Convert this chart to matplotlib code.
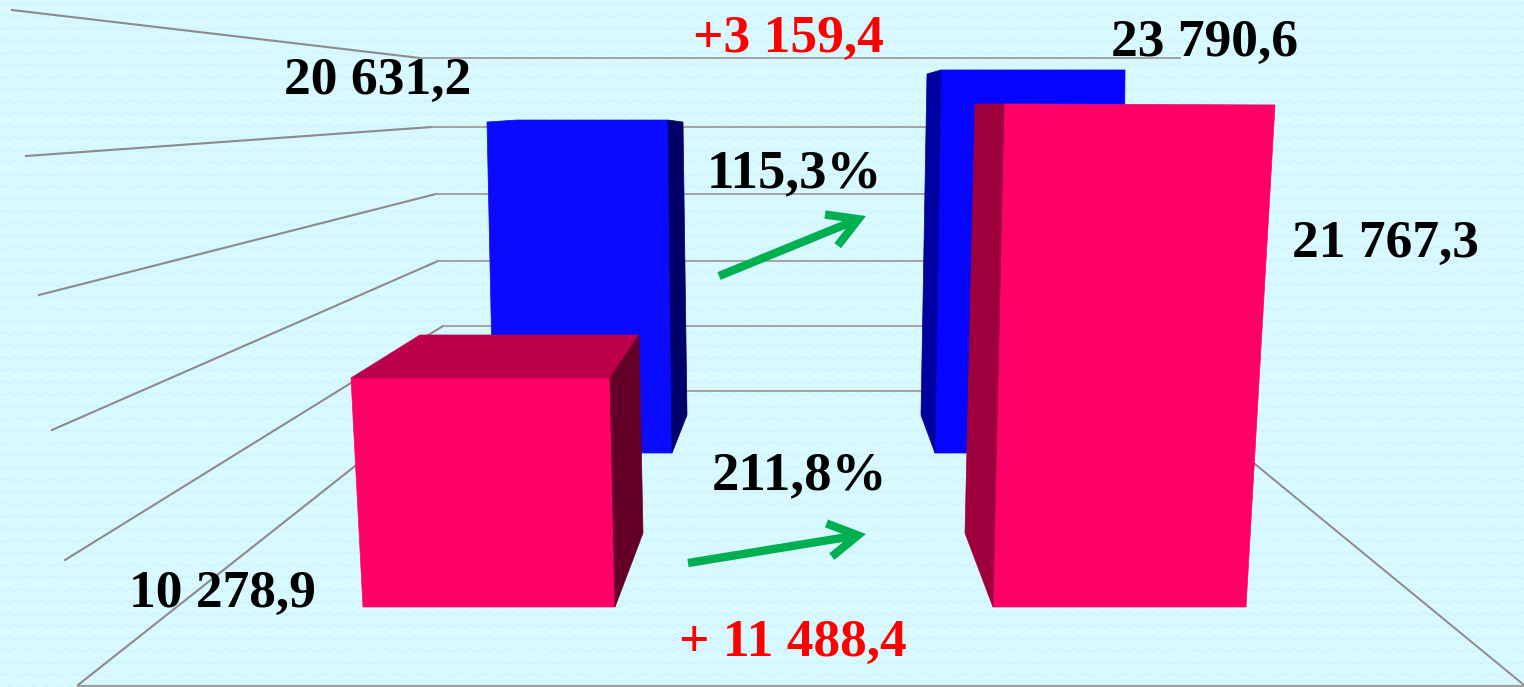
"""Perspective bar chart: two periods, two series, drawn on a pixel-sized axes."""

import numpy as np
import matplotlib
matplotlib.use("Agg")
import matplotlib.pyplot as plt
from matplotlib.patches import Polygon

blue_values = [20631.2, 23790.6]
red_values = [10278.9, 21767.3]
blue_delta = "+3 159,4"
red_delta = "+ 11 488,4"
blue_pct = "115,3%"
red_pct = "211,8%"

WIDTH, HEIGHT = 1524, 687
BG = "#D7F9FF"
WAVE = "#CDF3FA"
GRID = "#9E9E9E"
GRID_DARK = "#8E8A8A"
GREEN = "#00B050"
FONT = "Liberation Serif"
FS = 38.5


def fmt(v):
    whole, frac = f"{v:.1f}".split(".")
    return f"{whole[:-3]} {whole[-3:]},{frac}"


def face(ax, pts, color, z):
    ax.add_patch(Polygon(pts, closed=True, facecolor=color, edgecolor=color, lw=0.5, zorder=z))


def label(ax, cx, base, s, color="black", size=FS):
    ax.text(cx, base, s, ha="center", va="baseline", color=color, fontsize=size,
            fontweight="bold", family=FONT, zorder=10)


def arrow(ax, start, end):
    ax.annotate("", xy=end, xytext=start, zorder=9,
                arrowprops=dict(arrowstyle="->,head_length=0.95,head_width=0.55", color=GREEN,
                                lw=6.0, shrinkA=0, shrinkB=0, mutation_scale=22,
                                capstyle="butt", joinstyle="miter"))


fig = plt.figure(figsize=(WIDTH / 100, HEIGHT / 100), dpi=100, facecolor=BG)
ax = fig.add_axes([0, 0, 1, 1])
ax.set_xlim(0, WIDTH)
ax.set_ylim(HEIGHT, 0)
ax.axis("off")

# faint wavy background texture
xs = np.arange(0, WIDTH + 1, 1.0)
for row, y0 in enumerate(np.arange(4, HEIGHT + 12, 12.2)):
    ax.plot(xs, y0 + 1.2 * np.sin(2 * np.pi * (xs + 6 * (row % 2)) / 12.3), color=WAVE, lw=0.8, zorder=0)

# side wall and back wall gridlines, bottom level first
back_y = [391, 326, 261, 194, 127, 58]
back_left = [450, 443, 438, 436, 432, 420]
front_y = [685, 560, 430, 295, 156, 10]
front_left = [78, 65, 52, 39, 26, 12]
for i in range(len(back_y)):
    ax.plot([front_left[i], back_left[i]], [front_y[i], back_y[i]], color=GRID_DARK, lw=1.5, zorder=1)
    ax.plot([back_left[i], 1180], [back_y[i], back_y[i]], color=GRID, lw=1.3, zorder=1)
ax.plot([78, WIDTH], [686, 686], color=GRID, lw=1.6, zorder=1)
ax.plot([1166, WIDTH], [391, 685], color=GRID_DARK, lw=1.4, zorder=1)

# px per unit differs by bar because of the perspective
blue_base = 453
red_base = 607
blue_k = [0.01614, 0.0161]
red_k = [0.02228, 0.02311]

top = blue_base - blue_values[0] * blue_k[0]
face(ax, [(487, top + 2), (517, top), (668, top), (672, blue_base), (494, blue_base)], "#0A0AFF", 3)
face(ax, [(668, top), (683, top + 2), (687, 415), (672, blue_base)], "#000068", 3)

top = blue_base - blue_values[1] * blue_k[1]
face(ax, [(941, top), (1125, top), (1122, blue_base), (935, blue_base)], "#0404FF", 3)
face(ax, [(927, top + 4), (941, top), (935, blue_base), (921, 415)], "#0000A0", 3)

top = red_base - red_values[0] * red_k[0]
face(ax, [(351, top), (610, top), (615, red_base), (363, red_base)], "#FF0066", 5)
face(ax, [(351, top), (420, top - 43), (639, top - 43), (610, top)], "#BC004C", 5)
face(ax, [(610, top), (639, top - 43), (643, 533), (615, red_base)], "#640028", 5)

top = red_base - red_values[1] * red_k[1]
face(ax, [(1004, top), (1275, top + 1), (1246, red_base), (993, red_base)], "#FF0066", 5)
face(ax, [(975, top), (1004, top), (993, red_base), (965, 533)], "#9E003E", 5)

arrow(ax, (719, 276), (866, 216))
arrow(ax, (688, 563), (866, 534))

label(ax, 378, 94, fmt(blue_values[0]))
label(ax, 1205, 56, fmt(blue_values[1]))
label(ax, 222, 607, fmt(red_values[0]))
label(ax, 1386, 257, fmt(red_values[1]))
label(ax, 794, 187, blue_pct, size=39.5)
label(ax, 800, 489, red_pct, size=39.5)
label(ax, 788, 52, blue_delta, "#FF0000")
label(ax, 793, 656, red_delta, "#FF0000")

fig.savefig("out.png", dpi=100, facecolor=BG)
